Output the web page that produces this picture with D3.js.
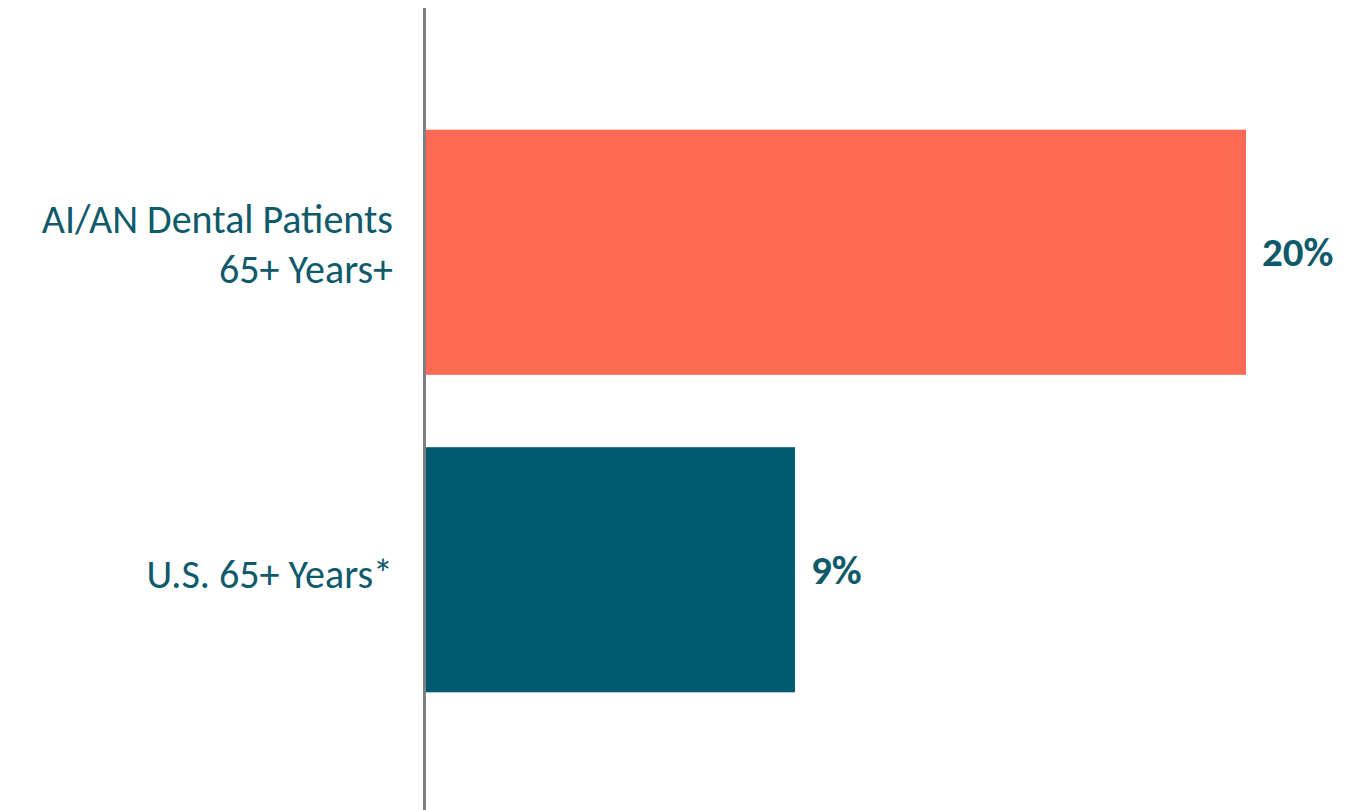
<!DOCTYPE html>
<html>
<head>
<meta charset="utf-8">
<script src="https://cdn.jsdelivr.net/npm/d3@7"></script>
<style>
  html, body { margin: 0; padding: 0; background: #fff; }
  svg { display: block; }
</style>
</head>
<body>
<svg id="chart" width="1355" height="810"></svg>
<script>
const categories = ["AI/AN Dental Patients\n65+ Years+", "U.S. 65+ Years*"];
const values = [20, 9];
const valueLabels = ["20%", "9%"];
const barColors = ["#FF6A55", "#005B70"];

const svg = d3.select("#chart");
const textColor = "#0E5A6B";
const font = "Carlito, Calibri, Lato, 'Open Sans', sans-serif";

const x = d3.scaleLinear().domain([0, 20]).range([426, 1246]);
const y = d3.scaleBand().domain(categories).range([12, 810]).paddingInner(0.228).paddingOuter(0.3707);

svg.selectAll("rect.bar").data(categories).enter().append("rect")
  .attr("class", "bar")
  .attr("x", x(0))
  .attr("y", d => y(d))
  .attr("width", (d, i) => x(values[i]) - x(0))
  .attr("height", y.bandwidth())
  .attr("fill", (d, i) => barColors[i]);

// axis line
svg.append("line")
  .attr("x1", 424.5).attr("x2", 424.5)
  .attr("y1", 8).attr("y2", 810)
  .attr("stroke", "#7F7F7F").attr("stroke-width", 3);

// category labels
categories.forEach((c, i) => {
  const lines = c.split("\n");
  const cy = y(c) + y.bandwidth() / 2;
  const lh = 50;
  const first = cy + 18 - (lines.length - 1) * 37.5;
  const t = svg.append("text")
    .attr("text-anchor", "end")
    .attr("font-family", font)
    .attr("font-size", 40)
    .attr("fill", textColor);
  lines.forEach((l, j) => {
    t.append("tspan")
      .attr("x", 393)
      .attr("y", first + j * lh)
      .text(l);
  });
});

// value labels
svg.selectAll("text.val").data(categories).enter().append("text")
  .attr("class", "val")
  .attr("x", (d, i) => x(values[i]) + 16)
  .attr("y", d => y(d) + y.bandwidth() / 2 + 14)
  .attr("font-family", font)
  .attr("font-size", 41)
  .attr("font-weight", "bold")
  .attr("fill", textColor)
  .text((d, i) => valueLabels[i]);
</script>
</body>
</html>
